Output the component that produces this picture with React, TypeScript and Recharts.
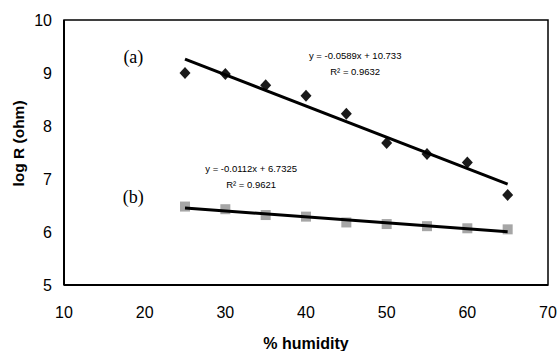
import {
  ComposedChart,
  ReferenceArea,
  ReferenceDot,
  Scatter,
  XAxis,
  YAxis,
} from "recharts";

const humidity = [25, 30, 35, 40, 45, 50, 55, 60, 65];
const logRA = [9.0, 8.98, 8.77, 8.57, 8.23, 7.68, 7.47, 7.31, 6.7];
const logRB = [6.48, 6.43, 6.32, 6.29, 6.18, 6.15, 6.11, 6.07, 6.05];

// trend line end points (from the fitted equations shown on the chart)
const fitX = [25, 65];
const fitA = [9.261, 6.905];
const fitB = [6.453, 6.005];

const xTicks = [10, 20, 30, 40, 50, 60, 70];
const yTicks = [5, 6, 7, 8, 9, 10];

type Note = { x: number; y: number; text: string; size: number; serif?: boolean };
const notes: Note[] = [
  { x: 18.6, y: 9.3, text: "(a)", size: 18, serif: true },
  { x: 18.6, y: 6.67, text: "(b)", size: 18, serif: true },
  { x: 46.1, y: 9.33, text: "y = -0.0589x + 10.733", size: 9.5 },
  { x: 46.1, y: 9.03, text: "R² = 0.9632", size: 9.5 },
  { x: 33.2, y: 7.19, text: "y = -0.0112x + 6.7325", size: 9.5 },
  { x: 33.2, y: 6.89, text: "R² = 0.9621", size: 9.5 },
];

const seriesA = humidity.map((h, i) => ({ h, v: logRA[i] }));
const seriesB = humidity.map((h, i) => ({ h, v: logRB[i] }));
const lineA = fitX.map((h, i) => ({ h, v: fitA[i] }));
const lineB = fitX.map((h, i) => ({ h, v: fitB[i] }));

const font = "Arial, 'Liberation Sans', sans-serif";

function Diamond(props: any) {
  const { cx, cy } = props;
  if (cx == null || cy == null) return null;
  return (
    <polygon
      points={`${cx},${cy - 6} ${cx + 5.5},${cy} ${cx},${cy + 6} ${cx - 5.5},${cy}`}
      fill="#1a1a1a"
    />
  );
}

function Square(props: any) {
  const { cx, cy } = props;
  if (cx == null || cy == null) return null;
  return <rect x={cx - 5} y={cy - 5} width={10} height={10} fill="#a6a6a6" />;
}

function NoShape() {
  return null;
}

function YTitle(props: any) {
  const vb = props.viewBox || { x: 0, y: 0, width: 64, height: 265 };
  const x = vb.x + 18;
  const y = vb.y + vb.height / 2 - 9;
  return (
    <text
      x={x}
      y={y}
      transform={`rotate(-90, ${x}, ${y})`}
      textAnchor="middle"
      dominantBaseline="central"
      style={{ fontSize: 15.5, fontWeight: "bold", fill: "#000", fontFamily: font }}
    >
      log R (ohm)
    </text>
  );
}

export default function App() {
  return (
    <div style={{ position: "absolute", left: 0, top: 0, background: "#fff" }}>
      <ComposedChart
        width={558}
        height={351}
        margin={{ top: 20, right: 10, left: 0, bottom: 0 }}
      >
        <XAxis
          type="number"
          dataKey="h"
          domain={[10, 70]}
          ticks={xTicks}
          tickLine={false}
          tickMargin={16}
          height={66}
          axisLine={{ stroke: "#000", strokeWidth: 2 }}
          tick={{ fontSize: 16, fill: "#000", fontFamily: font }}
          label={{
            value: "% humidity",
            position: "insideBottom",
            offset: 2,
            style: { fontSize: 16, fontWeight: "bold", fill: "#000", fontFamily: font },
          }}
        />
        <YAxis
          type="number"
          dataKey="v"
          domain={[5, 10]}
          ticks={yTicks}
          tickLine={false}
          tickMargin={6}
          width={64}
          axisLine={{ stroke: "#000", strokeWidth: 2 }}
          tick={{ fontSize: 16, fill: "#000", fontFamily: font }}
          label={<YTitle />}
        />
        <ReferenceArea
          x1={10}
          x2={70}
          y1={5}
          y2={10}
          fill="none"
          stroke="#000"
          strokeWidth={1.5}
          ifOverflow="visible"
        />
        <Scatter data={seriesA} shape={<Diamond />} isAnimationActive={false} />
        <Scatter data={seriesB} shape={<Square />} isAnimationActive={false} />
        <Scatter
          data={lineA}
          shape={<NoShape />}
          line={{ stroke: "#000", strokeWidth: 3 }}
          isAnimationActive={false}
        />
        <Scatter
          data={lineB}
          shape={<NoShape />}
          line={{ stroke: "#000", strokeWidth: 3 }}
          isAnimationActive={false}
        />
        {notes.map((n) => (
          <ReferenceDot
            key={n.text}
            x={n.x}
            y={n.y}
            r={0}
            stroke="none"
            fill="none"
            label={{
              value: n.text,
              position: "center",
              style: {
                fontSize: n.size,
                fill: "#000",
                fontFamily: n.serif ? "'Liberation Serif', 'Times New Roman', serif" : font,
              },
            }}
          />
        ))}
      </ComposedChart>
    </div>
  );
}
